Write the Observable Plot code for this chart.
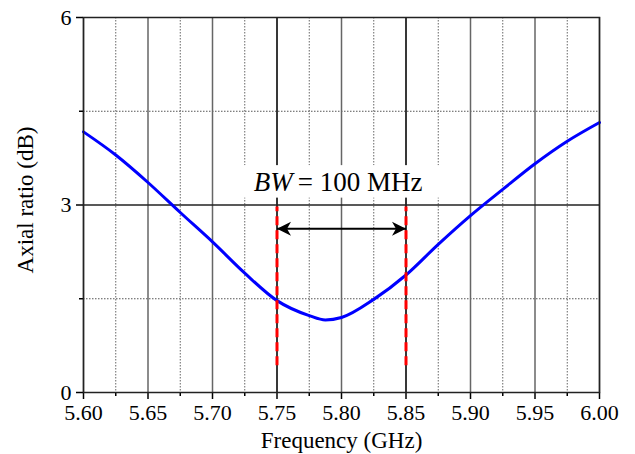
<!DOCTYPE html>
<html>
<head>
<meta charset="utf-8">
<script src="https://cdn.jsdelivr.net/npm/d3@7"></script>
<script src="https://cdn.jsdelivr.net/npm/@observablehq/plot@0.6"></script>
<style>
  html, body { margin: 0; padding: 0; background: white; }
</style>
</head>
<body>
<div id="chart"></div>
<script>
// Data
const frequency = [5.600, 5.625, 5.650, 5.675, 5.700, 5.725, 5.750, 5.775, 5.7875, 5.800, 5.825, 5.850, 5.875, 5.900, 5.925, 5.950, 5.975, 6.000];
const axialRatio = [4.17, 3.80, 3.36, 2.88, 2.41, 1.91, 1.47, 1.23, 1.16, 1.20, 1.49, 1.88, 2.37, 2.83, 3.25, 3.66, 4.02, 4.32];

const xMajorTicks = [5.60, 5.65, 5.70, 5.75, 5.80, 5.85, 5.90, 5.95, 6.00];
const xMinorTicks = [5.625, 5.675, 5.725, 5.775, 5.825, 5.875, 5.925, 5.975];
const yMajorTicks = [0, 3, 6];
const yMinorTicks = [1.5, 4.5];

// Bandwidth annotation
const bwEdges = [5.75, 5.85];
const bwLineRange = [0.43, 2.97];
const arrowLevel = 2.62;
const labelBoxX = [5.722, 5.880];
const labelBoxY = [3.11, 3.63];
const labelPos = [5.763, 3.23];
const labelItalic = "BW";
const labelRest = "= 100 MHz";
const xTitle = "Frequency (GHz)";
const yTitle = "Axial ratio (dB)";

const series = frequency.map((f, i) => ({f, ar: axialRatio[i]}));
const bwSegments = bwEdges.map(x => ({x, y1: bwLineRange[0], y2: bwLineRange[1]}));
const arrowData = [{x1: bwEdges[0], x2: bwEdges[1], y: arrowLevel}];
const boxData = [{x1: labelBoxX[0], x2: labelBoxX[1], y1: labelBoxY[0], y2: labelBoxY[1]}];
const labelData = [{x: labelPos[0], y: labelPos[1]}];

function stealthMarker(color, context) {
  const ns = "http://www.w3.org/2000/svg";
  const doc = context.document;
  const marker = doc.createElementNS(ns, "marker");
  marker.setAttribute("viewBox", "-16 -8 17 16");
  marker.setAttribute("refX", "0");
  marker.setAttribute("refY", "0");
  marker.setAttribute("markerWidth", "17");
  marker.setAttribute("markerHeight", "16");
  marker.setAttribute("markerUnits", "userSpaceOnUse");
  marker.setAttribute("orient", "auto-start-reverse");
  const path = doc.createElementNS(ns, "path");
  path.setAttribute("d", "M0,0L-14,-7L-10,0L-14,7Z");
  path.setAttribute("fill", "black");
  path.setAttribute("stroke", "none");
  marker.appendChild(path);
  return marker;
}

const serif = "'Liberation Serif', 'Times New Roman', serif";

const chart = Plot.plot({
  width: 635,
  height: 454,
  marginLeft: 83,
  marginRight: 36,
  marginTop: 17,
  marginBottom: 62,
  x: {domain: [5.6, 6.0]},
  y: {domain: [0, 6]},
  style: {fontFamily: serif, fontSize: "22px", color: "black", background: "white"},
  marks: [
    // grid
    Plot.ruleX(xMinorTicks, {stroke: "#666", strokeWidth: 1, strokeDasharray: "1.5,1.5"}),
    Plot.ruleY(yMinorTicks, {stroke: "#555", strokeWidth: 1, strokeDasharray: "1.5,1.5"}),
    Plot.ruleX(xMajorTicks, {stroke: "#666", strokeWidth: 1.5}),
    Plot.ruleX(bwEdges, {stroke: "black", strokeWidth: 1.2}),
    Plot.ruleY([yMajorTicks[1]], {stroke: "#222", strokeWidth: 1.5}),
    // white label background
    Plot.rect(boxData, {x1: "x1", x2: "x2", y1: "y1", y2: "y2", fill: "white"}),
    // curve
    Plot.line(series, {x: "f", y: "ar", stroke: "#0000ff", strokeWidth: 3, curve: "monotone-x"}),
    // bandwidth lines
    Plot.ruleX(bwSegments, {x: "x", y1: "y1", y2: "y2", stroke: "#ff0000", strokeWidth: 3, strokeDasharray: "9,5"}),
    Plot.link(arrowData, {x1: "x1", x2: "x2", y1: "y", y2: "y", stroke: "black", strokeWidth: 2, markerStart: stealthMarker, markerEnd: stealthMarker}),
    Plot.text(labelData, {x: "x", y: "y", text: () => labelItalic, fontStyle: "italic", fontSize: 27, textAnchor: "end", lineAnchor: "bottom", dx: -1, fill: "black"}),
    Plot.text(labelData, {x: "x", y: "y", text: () => labelRest, fontSize: 27, textAnchor: "start", lineAnchor: "bottom", dx: 4, fill: "black"}),
    // axes
    Plot.axisX(xMajorTicks, {tickSize: 7, tickPadding: 5, strokeWidth: 1.5, fontSize: 22, tickFormat: d3.format(".2f"), label: null}),
    Plot.axisX(xMinorTicks, {tickSize: 4, strokeWidth: 1.5, tickFormat: () => "", label: null}),
    Plot.axisY(yMajorTicks, {tickSize: 7, tickPadding: 5, strokeWidth: 1.5, fontSize: 22, tickFormat: d3.format("d"), label: null}),
    Plot.axisY(yMinorTicks, {tickSize: 4, strokeWidth: 1.5, tickFormat: () => "", label: null}),
    Plot.frame({stroke: "#222", strokeWidth: 1.5}),
    // axis titles
    Plot.text([xTitle], {frameAnchor: "bottom", text: d => d, textAnchor: "middle", lineAnchor: "bottom", dy: 55, fontSize: 23, fill: "black"}),
    Plot.text([yTitle], {frameAnchor: "left", text: d => d, textAnchor: "middle", lineAnchor: "middle", rotate: -90, dx: -58, dy: -5, fontSize: 23, fill: "black"})
  ]
});

document.getElementById("chart").appendChild(chart);
</script>
</body>
</html>
